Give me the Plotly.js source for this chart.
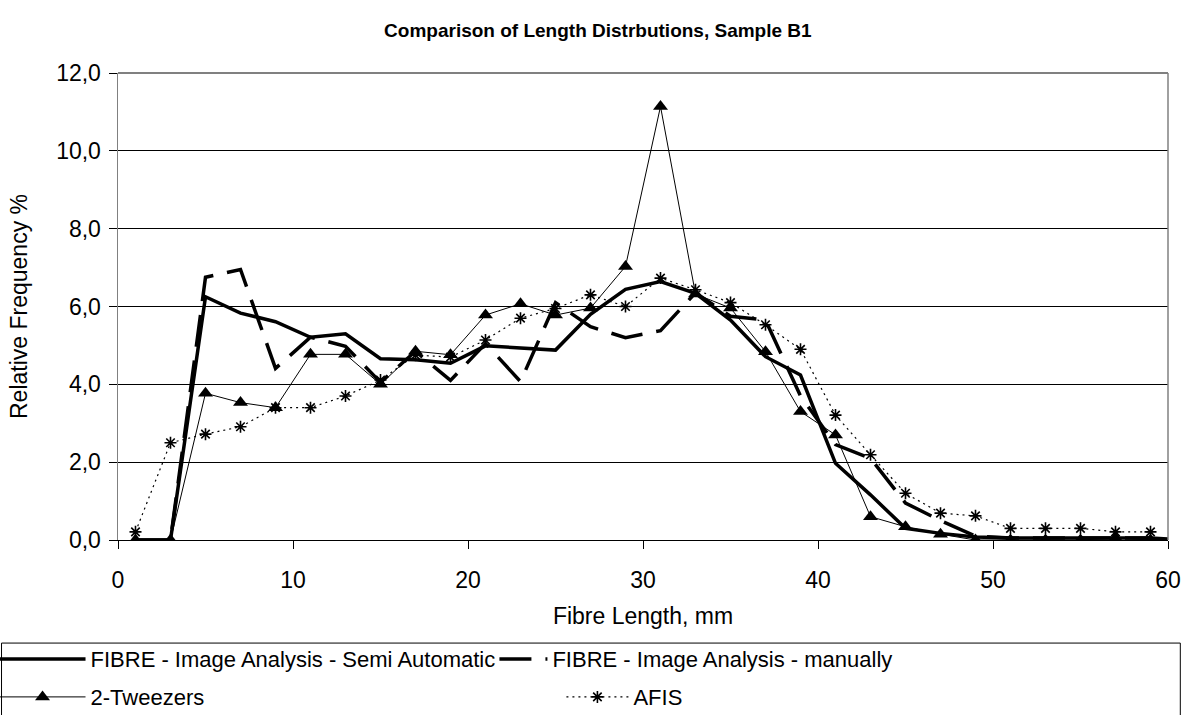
<!DOCTYPE html>
<html>
<head>
<meta charset="utf-8">
<script src="https://cdn.plot.ly/plotly-3.0.1.min.js"></script>
<style>html,body{margin:0;padding:0;background:#fff;}#chart{width:1191px;height:715px;}</style>
</head>
<body>
<div id="chart"></div>
<script>
const fibreLength = [1,3,5,7,9,11,13,15,17,19,21,23,25,27,29,31,33,35,37,39,41,43,45,47,49,51,53,55,57,59];
const semiAutoX = [1,3,5,7,9,11,13,15,17,19,21,23,25,27,29,31,33,35,37,39,41,43,45,47,49,51,53,55,57,59,61];
const semiAuto = [0,0,6.25,5.83,5.61,5.21,5.30,4.66,4.63,4.54,4.99,4.93,4.88,5.80,6.44,6.64,6.34,5.65,4.71,4.24,1.97,1.16,0.30,0.17,0.08,0.05,0.05,0.04,0.05,0.05,0.0];
const manually = [0,0,6.75,6.95,4.41,5.21,4.98,4.05,4.85,4.10,5.05,4.07,6.10,5.48,5.20,5.38,6.35,5.75,5.65,3.70,2.45,2.10,0.95,0.50,0.10,0.05,0.05,0.05,0.05,0.05];
const tweezers = [0,0,3.77,3.53,3.40,4.77,4.77,4.00,4.85,4.76,5.78,6.07,5.78,5.96,7.03,11.14,6.32,5.96,4.84,3.30,2.70,0.60,0.34,0.15,0.0,0.0,0.0,0.0,0.05,0.0];
const afis = [0.21,2.50,2.72,2.91,3.40,3.40,3.70,4.11,4.75,4.70,5.14,5.70,5.95,6.30,6.00,6.73,6.43,6.10,5.53,4.90,3.21,2.19,1.20,0.69,0.62,0.30,0.30,0.30,0.21,0.21];
const seriesNames = ["FIBRE - Image Analysis - Semi Automatic","FIBRE - Image Analysis - manually","2-Tweezers","AFIS"];

const traces = [
  {x: semiAutoX, y: semiAuto, name: seriesNames[0], legend:'legend', type:'scatter', mode:'lines', line:{color:'#000', width:3.5}},
  {x: fibreLength, y: manually, name: seriesNames[1], legend:'legend2', type:'scatter', mode:'lines', line:{color:'#000', width:3.5, dash:'32px,14px'}},
  {x: fibreLength, y: tweezers, name: seriesNames[2], legend:'legend3', type:'scatter', mode:'lines+markers', line:{color:'#000', width:1}, marker:{symbol:'triangle-up', size:13, color:'#000'}},
  {x: fibreLength, y: afis, name: seriesNames[3], legend:'legend4', type:'scatter', mode:'lines+markers', line:{color:'#000', width:1.2, dash:'2px,4px'}, marker:{symbol:'asterisk-open', size:10, line:{color:'#000', width:1.6}}}
];

// plot area: x pixels 117.5..1167.7, y pixels 73.3..540
const PX0 = 117.5, PW = 1050.2, PY0 = 540, PH = 466.7;
const px = p => (p - PX0) / PW;
const py = p => (PY0 - p) / PH;
const legBase = {orientation:'h', xanchor:'left', yanchor:'middle', bgcolor:'rgba(0,0,0,0)', borderwidth:0, font:{size:22}, traceorder:'normal'};

const layout = {
  width:1191, height:715,
  paper_bgcolor:'#fff', plot_bgcolor:'#fff',
  separators: ',.',
  font:{family:'Liberation Sans, Arial, sans-serif', color:'#000', size:22},
  margin:{l:117.5, r:23.3, t:73.3, b:175, autoexpand:false},
  title:{text:'<b>Comparison of Length Distrbutions, Sample B1</b>', font:{size:19, color:'#000'}, xref:'container', x:0.502, yref:'container', y:0.958, yanchor:'middle'},
  xaxis:{range:[0,60], dtick:10, tick0:0, ticks:'outside', ticklen:8, tickcolor:'#000', ticklabelstandoff:11, showgrid:false, zeroline:false, showline:true, linecolor:'#000', linewidth:1,
         tickfont:{size:23}, title:{text:'Fibre Length, mm', font:{size:23}, standoff:16}},
  yaxis:{range:[0,12], dtick:2, tick0:0, tickformat:'.1f', ticks:'outside', ticklen:8, tickcolor:'#000', ticklabelstandoff:3, showgrid:true, gridcolor:'#000', gridwidth:1, zeroline:false,
         showline:true, linecolor:'#808080', linewidth:1.5, tickfont:{size:23}, title:{text:'Relative Frequency %', font:{size:23}, standoff:22}},
  shapes:[
    {type:'line', xref:'paper', yref:'paper', x0:1, x1:1, y0:0, y1:1, line:{color:'#808080', width:1.5}},
    {type:'line', xref:'paper', yref:'paper', x0:0, x1:1, y0:1, y1:1, line:{color:'#808080', width:2}},
    {type:'rect', xref:'paper', yref:'paper', x0:px(1), x1:px(1180), y0:py(643), y1:py(760), line:{color:'#000', width:1}, fillcolor:'rgba(0,0,0,0)'}
  ],
  showlegend:true,
  legend: Object.assign({}, legBase, {x:px(-6), y:py(659), itemwidth:86}),
  legend2: Object.assign({}, legBase, {x:px(494), y:py(659), itemwidth:48}),
  legend3: Object.assign({}, legBase, {x:px(-6), y:py(697), itemwidth:86}),
  legend4: Object.assign({}, legBase, {x:px(561), y:py(697), itemwidth:62})
};

Plotly.newPlot('chart', traces, layout, {staticPlot:true, displayModeBar:false});
</script>
</body>
</html>
